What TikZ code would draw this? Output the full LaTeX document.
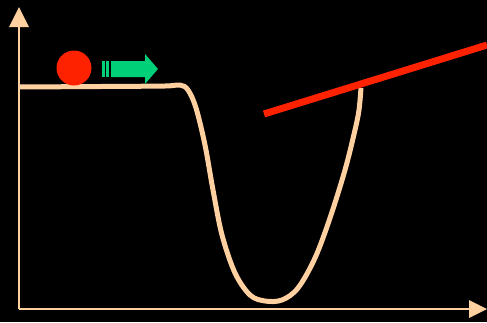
\documentclass[tikz,border=0pt]{standalone}
\usetikzlibrary{arrows.meta}
\definecolor{peach}{RGB}{255,208,160}
\definecolor{hotred}{RGB}{255,34,0}
\definecolor{mint}{RGB}{0,208,120}
\tikzset{
  axis/.style={draw=peach,line width=2pt},
  well/.style={draw=peach,line width=5pt,line join=round},
  slope/.style={draw=hotred,line width=7pt},
  greenfill/.style={fill=mint,draw=none}
}
\begin{document}
\begin{tikzpicture}[x=1pt,y=-1pt]
\fill[black] (0,0) rectangle (487,322);
\useasboundingbox (0,0) rectangle (487,322);
% axes
\draw[axis] (19,309) -- (19,26);
\fill[peach] (19,7) -- (29,27) -- (9,27) -- cycle;
\draw[axis] (19,309) -- (470,309);
\fill[peach] (487,309) -- (469,300) -- (469,318) -- cycle;
% potential curve
\draw[well] plot[smooth,tension=0.55] coordinates {(19,87) (100,86.5) (165,86) (180,85) (188,90) (196,108) (205,145) (213,190) (222,235) (235,273) (250,295) (265,301) (282,300) (298,288) (315,258) (330,218) (345,170) (355,130) (359,110) (361,88)};
% red line
\draw[slope] (264,114) -- (487,45);
% ball
\fill[hotred] (74,68) circle (17.5);
% green arrow
\fill[greenfill] (102,61) rectangle (104.5,77);
\fill[greenfill] (106,61) rectangle (108.5,77);
\fill[greenfill] (111,61) -- (145,61) -- (145,54) -- (158,69) -- (145,84) -- (145,77) -- (111,77) -- cycle;
\end{tikzpicture}
\end{document}
